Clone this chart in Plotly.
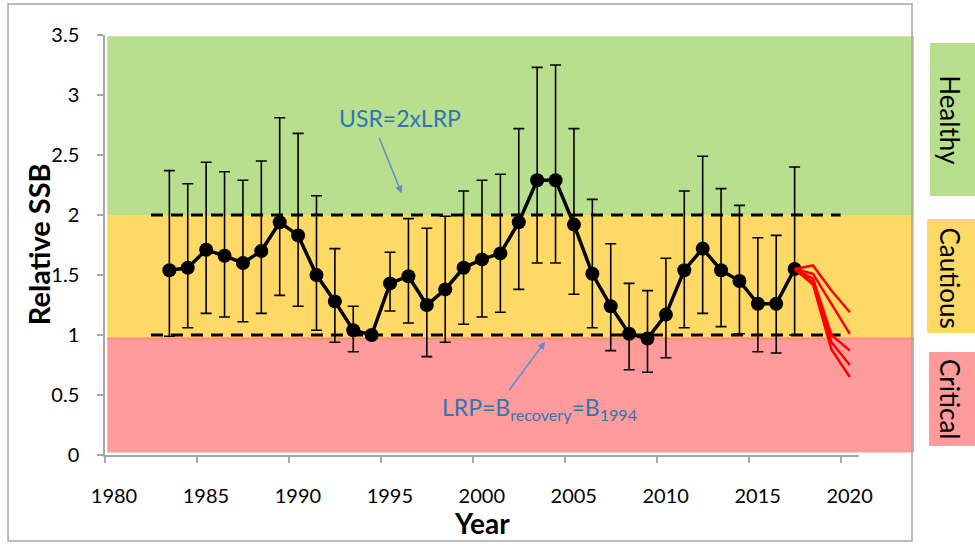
import plotly.graph_objects as go

# ---- data -------------------------------------------------------------
years = list(range(1983, 2018))
ssb = [1.54, 1.56, 1.71, 1.66, 1.60, 1.70, 1.94, 1.83, 1.50, 1.28, 1.04, 1.00, 1.43,
       1.49, 1.25, 1.38, 1.56, 1.63, 1.68, 1.94, 2.29, 2.29, 1.92, 1.51, 1.24, 1.01,
       0.97, 1.17, 1.54, 1.72, 1.54, 1.45, 1.26, 1.26, 1.55]
ssb_upper = [2.37, 2.26, 2.44, 2.36, 2.29, 2.45, 2.81, 2.68, 2.16, 1.72, 1.24, 1.00, 1.69,
             1.97, 1.89, 1.99, 2.20, 2.29, 2.34, 2.72, 3.23, 3.25, 2.72, 2.13, 1.76, 1.43,
             1.37, 1.64, 2.20, 2.49, 2.22, 2.08, 1.81, 1.83, 2.40]
ssb_lower = [0.99, 1.06, 1.18, 1.15, 1.11, 1.18, 1.33, 1.24, 1.04, 0.94, 0.86, 1.00, 1.20,
             1.10, 0.82, 0.94, 1.09, 1.15, 1.19, 1.38, 1.60, 1.60, 1.34, 1.06, 0.87, 0.71,
             0.69, 0.81, 1.06, 1.18, 1.07, 1.01, 0.86, 0.85, 1.00]

proj_years = [2017, 2018, 2019, 2020]
projections = [
    [1.55, 1.58, 1.37, 1.19],
    [1.55, 1.51, 1.26, 1.01],
    [1.55, 1.47, 1.00, 0.87],
    [1.55, 1.44, 0.94, 0.75],
    [1.55, 1.42, 0.88, 0.65],
]

LRP = 1.0
USR = 2 * LRP
ref_span = [1982.5, 2020.0]

zone_names = ["Critical", "Cautious", "Healthy"]
zone_bounds = [0.02, 0.97, 2.0, 3.49]
zone_colors = ["#FF9B9B", "#FFD966", "#B8DF8E"]

x_ticks = [1980, 1985, 1990, 1995, 2000, 2005, 2010, 2015, 2020]
y_ticks = [0, 0.5, 1, 1.5, 2, 2.5, 3, 3.5]

MID_YEAR = 0.5  # annual values are drawn at mid-year
FONT = "Lato"
BLUE = "#2E75B6"

xs = [y + MID_YEAR for y in years]

fig = go.Figure()

# reference points (LRP and USR)
for level in (USR, LRP):
    fig.add_trace(go.Scatter(
        x=ref_span, y=[level, level], mode="lines",
        line=dict(color="black", width=3, dash="12px,8px"),
        hoverinfo="skip", showlegend=False))

# stock trajectory with uncertainty
fig.add_trace(go.Scatter(
    x=xs, y=ssb, mode="lines+markers",
    line=dict(color="black", width=3.5),
    marker=dict(color="black", size=14),
    error_y=dict(type="data", symmetric=False,
                 array=[u - v for u, v in zip(ssb_upper, ssb)],
                 arrayminus=[v - l for v, l in zip(ssb, ssb_lower)],
                 color="black", thickness=1.6, width=5.5),
    showlegend=False))

# projections
for proj in projections:
    fig.add_trace(go.Scatter(
        x=[y + MID_YEAR for y in proj_years], y=proj, mode="lines",
        line=dict(color="#FF0000", width=2.5),
        showlegend=False))

shapes = []
# coloured status zones
for lo, hi, col in zip(zone_bounds[:-1], zone_bounds[1:], zone_colors):
    shapes.append(dict(type="rect", xref="paper", yref="y", x0=0.003, x1=1.073,
                       y0=lo, y1=hi, fillcolor=col, line_width=0, layer="below"))
# thin edge on top of the critical zone
shapes.append(dict(type="line", xref="paper", yref="y", x0=0.003, x1=1.073,
                   y0=zone_bounds[1], y1=zone_bounds[1],
                   line=dict(color="#FF8C7C", width=2), layer="below"))
# zone label boxes on the right
label_boxes = [(0.075, 0.858, 1.0928), (1.017, 1.967, 1.0902), (2.158, 3.433, 1.0942)]
for (lo, hi, x0), col in zip(label_boxes, zone_colors):
    shapes.append(dict(type="rect", xref="paper", yref="y", x0=x0, x1=1.2,
                       y0=lo, y1=hi, fillcolor=col, line_width=0, layer="below"))
# chart frame
shapes.append(dict(type="rect", xref="paper", yref="paper", x0=-0.1286, x1=1.0703,
                   y0=-0.2048, y1=1.0738, line=dict(color="#A6A6A6", width=1.5),
                   fillcolor="rgba(0,0,0,0)", layer="above"))

annotations = [
    dict(text="USR=2xLRP", x=1996.04, y=2.81, xref="x", yref="y", showarrow=False,
         xanchor="center", yanchor="middle",
         font=dict(family=FONT, size=23, color=BLUE)),
    dict(text="", x=1996.13, y=2.18, xref="x", yref="y", showarrow=True,
         ax=-23, ay=-57, arrowhead=2, arrowsize=1, arrowwidth=1.5, arrowcolor="#5B8FC9"),
    dict(text="LRP=B<sub>recovery</sub>=B<sub>1994</sub>", x=1998.2, y=0.39,
         xref="x", yref="y", xanchor="left", yanchor="middle", showarrow=False,
         font=dict(family=FONT, size=23, color=BLUE)),
    dict(text="", x=2003.93, y=0.944, xref="x", yref="y", showarrow=True,
         ax=-37, ay=50, arrowhead=2, arrowsize=1, arrowwidth=1.5, arrowcolor="#5B8FC9"),
    dict(text="<b>Relative SSB</b>", x=-0.0889, y=0.502, xref="paper", yref="paper",
         xanchor="center", yanchor="middle",
         textangle=-90, showarrow=False, font=dict(family=FONT, size=29, color="black")),
    dict(text="<b>Year</b>", x=0.5, y=-0.162, xref="paper", yref="paper",
         xanchor="center", yanchor="middle",
         showarrow=False, font=dict(family=FONT, size=28, color="black")),
]
zone_label_y = [0.467, 1.48, 2.79]
for name, yc in zip(zone_names, zone_label_y):
    annotations.append(dict(text=name, x=1.1207, y=yc, xref="paper", yref="y",
                            xanchor="center", yanchor="middle",
                            textangle=90, showarrow=False,
                            font=dict(family=FONT, size=26, color="black")))

axis_common = dict(showgrid=False, zeroline=False, showline=True, linecolor="#A6A6A6",
                   linewidth=1.5, ticks="outside", tickcolor="#A6A6A6", ticklen=6,
                   tickwidth=1.5, tickfont=dict(family=FONT, size=20, color="black"))

fig.update_layout(
    width=975, height=550,
    margin=dict(l=105, r=116, t=35, b=95),
    paper_bgcolor="white", plot_bgcolor="white",
    xaxis=dict(range=[1980, 2021], tickvals=x_ticks, ticklabelshift=9,
               ticklabelstandoff=16, **axis_common),
    yaxis=dict(range=[0, 3.5], tickvals=y_ticks, ticktext=[f"{v:g}" for v in y_ticks],
               ticklabelstandoff=14, **axis_common),
    shapes=shapes, annotations=annotations,
)

fig.write_html("out.html")
